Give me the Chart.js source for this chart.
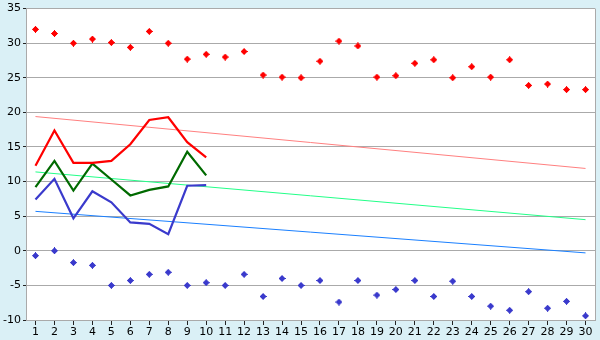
<!DOCTYPE html>
<html>
<head>
<meta charset="utf-8">
<script src="https://cdn.jsdelivr.net/npm/chart.js@4/dist/chart.umd.min.js"></script>
<style>
  html, body { margin: 0; padding: 0; background: #daf0f6; }
  #wrap { width: 600px; height: 340px; position: relative; }
</style>
</head>
<body>
<div id="wrap"><canvas id="chart"></canvas></div>
<script>
const days = Array.from({ length: 30 }, (_, i) => String(i + 1));

// daily extremes (points)
const maxPoints = [32.0, 31.4, 30.0, 30.6, 30.1, 29.4, 31.7, 30.0, 27.7, 28.4,
                   28.0, 28.8, 25.4, 25.1, 25.0, 27.4, 30.3, 29.6, 25.1, 25.3,
                   27.1, 27.6, 25.0, 26.6, 25.1, 27.6, 23.9, 24.1, 23.3, 23.3];
const minPoints = [-0.7, 0.0, -1.7, -2.1, -5.0, -4.3, -3.4, -3.1, -5.0, -4.6,
                   -5.0, -3.4, -6.6, -4.0, -5.0, -4.3, -7.4, -4.3, -6.4, -5.6,
                   -4.3, -6.6, -4.4, -6.6, -8.0, -8.6, -5.9, -8.3, -7.3, -9.4];

// first ten days (lines)
const highLine = [12.3, 17.4, 12.7, 12.7, 13.0, 15.4, 18.9, 19.3, 15.7, 13.5];
const meanLine = [9.2, 13.0, 8.7, 12.6, 10.3, 8.0, 8.8, 9.3, 14.3, 10.9];
const lowLine  = [7.4, 10.4, 4.7, 8.6, 7.0, 4.1, 3.9, 2.4, 9.4, 9.5];

// trend ends (day 1, day 30)
const highTrend = [19.4, 11.9];
const meanTrend = [11.4, 4.5];
const lowTrend  = [5.7, -0.3];

const yTicks = [-10, -5, 0, 5, 10, 15, 20, 25, 30, 35];

function trend(ends) {
  const d = new Array(30).fill(null);
  d[0] = ends[0];
  d[29] = ends[1];
  return d;
}

// small plus-shaped marker like the original
function marker(color) {
  const c = document.createElement('canvas');
  c.width = 7; c.height = 7;
  const g = c.getContext('2d');
  g.fillStyle = color;
  g.fillRect(3, 0, 1, 7);
  g.fillRect(0, 3, 7, 1);
  g.fillRect(2, 1, 3, 5);
  g.fillRect(1, 2, 5, 3);
  return c;
}

const plotFrame = {
  id: 'plotFrame',
  beforeDraw(chart) {
    const { ctx, chartArea: a } = chart;
    ctx.save();
    ctx.fillStyle = '#ffffff';
    ctx.fillRect(a.left, a.top, a.right - a.left, a.bottom - a.top);
    ctx.restore();
  },
  afterDraw(chart) {
    const { ctx, chartArea: a } = chart;
    ctx.save();
    ctx.strokeStyle = '#aaaaaa';
    ctx.lineWidth = 1;
    ctx.beginPath();
    ctx.moveTo(Math.round(a.right) + 0.5, a.top);
    ctx.lineTo(Math.round(a.right) + 0.5, a.bottom);
    ctx.stroke();
    ctx.restore();
  }
};

const pt = { showLine: false, pointRadius: 3.5, order: 0 };
const ln = { borderWidth: 2.2, pointRadius: 0, tension: 0, order: 1 };
const tr = { borderWidth: 1, pointRadius: 0, spanGaps: true, order: 3 };

new Chart(document.getElementById('chart'), {
  type: 'line',
  data: {
    labels: days,
    datasets: [
      { label: 'max', data: maxPoints, pointStyle: marker('#ff0000'), borderColor: '#ff0000', ...pt },
      { label: 'min', data: minPoints, pointStyle: marker('#3a3acc'), borderColor: '#3a3acc', ...pt },
      { label: 'high', data: highLine, borderColor: '#ff0000', ...ln },
      { label: 'mean', data: meanLine, borderColor: '#006a00', ...ln },
      { label: 'low', data: lowLine, borderColor: '#3a3acc', ...ln },
      { label: 'high trend', data: trend(highTrend), borderColor: '#ff8080', ...tr },
      { label: 'mean trend', data: trend(meanTrend), borderColor: '#22ff88', ...tr },
      { label: 'low trend', data: trend(lowTrend), borderColor: '#1a80ff', ...tr },
    ]
  },
  options: {
    responsive: true,
    maintainAspectRatio: false,
    animation: false,
    layout: { padding: { top: 5, right: 5, left: 0, bottom: 0 } },
    plugins: { legend: { display: false }, tooltip: { enabled: false } },
    scales: {
      x: {
        offset: true,
        afterFit: s => { s.height = 20; },
        grid: { drawOnChartArea: false, drawTicks: true, tickLength: 5, tickColor: '#222', offset: false },
        border: { color: '#aaaaaa' },
        ticks: { color: '#000', font: { family: 'DejaVu Sans', size: 11 }, padding: 1, maxRotation: 0, autoSkip: false }
      },
      y: {
        min: -10, max: 35,
        afterFit: s => { s.width = 26; },
        afterBuildTicks: s => { s.ticks = yTicks.map(v => ({ value: v })); },
        grid: { color: '#aaaaaa', tickLength: 3, tickColor: '#222' },
        border: { color: '#aaaaaa' },
        ticks: { color: '#000', font: { family: 'DejaVu Sans', size: 11 }, padding: 2 }
      }
    }
  },
  plugins: [plotFrame]
});
</script>
</body>
</html>
